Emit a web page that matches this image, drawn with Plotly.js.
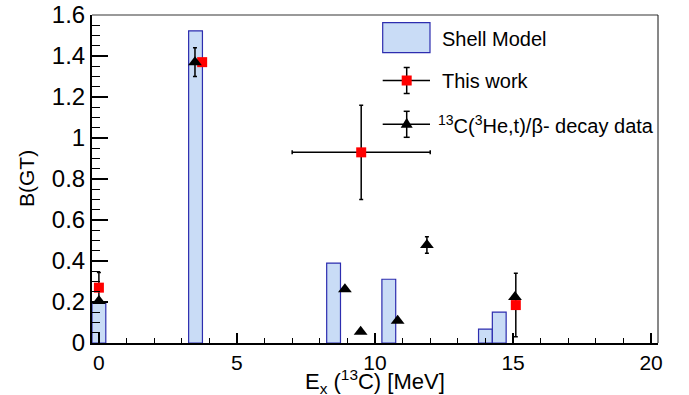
<!DOCTYPE html>
<html>
<head>
<meta charset="utf-8">
<script src="https://cdn.plot.ly/plotly-3.0.1.min.js"></script>
<style>html,body{margin:0;padding:0;background:#fff;}#chart{width:689px;height:395px;}</style>
</head>
<body>
<div id="chart"></div>
<script>
// Shell model histogram (bin centres, width 0.5 MeV)
const smEnergy = [0, 3.5, 8.5, 10.5, 14.0, 14.5];
const smBGT    = [0.195, 1.523, 0.39, 0.311, 0.068, 0.151];
const smBinWidth = 0.5;

// This work
const twEnergy = [0.0, 3.74, 9.5, 15.1];
const twBGT    = [0.27, 1.37, 0.93, 0.185];
const twErrY   = [0.074, 0, 0.23, 0.155];
const twErrX   = [0, 0, 2.5, 0];

// 13C(3He,t) / beta-decay data
const ldEnergy = [0.0, 3.48, 8.91, 9.48, 10.82, 11.88, 15.07];
const ldBGT    = [0.205, 1.37, 0.262, 0.055, 0.109, 0.478, 0.225];
const ldErrY   = [0, 0.07, 0, 0, 0, 0.04, 0];

const xTitle = 'E<sub>x</sub> (<sup>13</sup>C) [MeV]';
const yTitle = 'B(GT)';
const legendLabels = ['Shell Model', 'This work', '<sup>13</sup>C(<sup>3</sup>He,t)/\u03b2- decay data'];

const FONT = 'Liberation Sans, Arial, Helvetica, sans-serif';
const barFill = 'rgb(201,220,246)';
const barLine = 'rgb(45,45,175)';

// plot area in pixels
const L = 92, R = 658, T = 15, B = 343;
const px = x => (x - L) / (R - L);
const py = y => (B - y) / (B - T);

const traces = [
  {
    type: 'bar', x: smEnergy, y: smBGT, width: smBinWidth,
    marker: {color: barFill, line: {color: barLine, width: 1.2}},
    showlegend: false, hoverinfo: 'skip'
  },
  {
    type: 'scatter', mode: 'markers', x: twEnergy, y: twBGT,
    marker: {symbol: 'square', size: 10, color: '#ff0000'},
    error_y: {type: 'data', array: twErrY, color: '#000', thickness: 1.5, width: 2},
    error_x: {type: 'data', array: twErrX, color: '#000', thickness: 1.5, width: 2},
    cliponaxis: false, showlegend: false
  },
  {
    type: 'scatter', mode: 'markers', x: ldEnergy, y: ldBGT,
    marker: {symbol: 'triangle-up', size: 12, color: '#000'},
    error_y: {type: 'data', array: ldErrY, color: '#000', thickness: 1.5, width: 2},
    cliponaxis: false, showlegend: false
  }
];

// legend drawn as layout decoration
const lx0 = 382.7, lx1 = 430, lxc = 406.7;
const rowY = [37.7, 80.5, 124.3];
const shapes = [
  // frame top & right
  {type: 'line', xref: 'paper', yref: 'paper', x0: 0, x1: 1, y0: 1, y1: 1, line: {color: '#777', width: 1.5}},
  {type: 'line', xref: 'paper', yref: 'paper', x0: 1, x1: 1, y0: 0, y1: 1, line: {color: '#111', width: 1}},
  // shell model swatch
  {type: 'rect', xref: 'paper', yref: 'paper', x0: px(lx0), x1: px(lx1), y0: py(52.7), y1: py(22.7),
   fillcolor: barFill, line: {color: barLine, width: 1.2}},
];
function errSwatch(yc, half) {
  shapes.push({type: 'line', xref: 'paper', yref: 'paper', x0: px(lx0), x1: px(lx1), y0: py(yc), y1: py(yc), line: {color: '#000', width: 1.5}});
  shapes.push({type: 'line', xref: 'paper', yref: 'paper', x0: px(lxc), x1: px(lxc), y0: py(yc - half), y1: py(yc + half), line: {color: '#000', width: 1.5}});
  shapes.push({type: 'line', xref: 'paper', yref: 'paper', x0: px(lxc - 3), x1: px(lxc + 3), y0: py(yc - half), y1: py(yc - half), line: {color: '#000', width: 1.5}});
  shapes.push({type: 'line', xref: 'paper', yref: 'paper', x0: px(lxc - 3), x1: px(lxc + 3), y0: py(yc + half), y1: py(yc + half), line: {color: '#000', width: 1.5}});
}
errSwatch(rowY[1], 13);
errSwatch(rowY[2], 13);
shapes.push({type: 'rect', xref: 'paper', yref: 'paper', x0: px(lxc - 5), x1: px(lxc + 5), y0: py(rowY[1] + 5), y1: py(rowY[1] - 5),
  fillcolor: '#ff0000', line: {width: 0}});
shapes.push({type: 'path', xref: 'paper', yref: 'paper',
  path: `M ${px(lxc - 6)},${py(rowY[2] + 3.5)} L ${px(lxc + 6)},${py(rowY[2] + 3.5)} L ${px(lxc)},${py(rowY[2] - 6.5)} Z`,
  fillcolor: '#000', line: {width: 0}});

const annotations = [
  {xref: 'paper', yref: 'paper', x: px(440), y: py(rowY[0] + 1), xanchor: 'left', yanchor: 'middle', showarrow: false,
   text: legendLabels[0], font: {family: FONT, size: 20, color: '#000'}},
  {xref: 'paper', yref: 'paper', x: px(440), y: py(rowY[1]), xanchor: 'left', yanchor: 'middle', showarrow: false,
   text: legendLabels[1], font: {family: FONT, size: 20, color: '#000'}},
  {xref: 'paper', yref: 'paper', x: px(435.5), y: py(rowY[2]), xanchor: 'left', yanchor: 'middle', showarrow: false,
   text: legendLabels[2], font: {family: FONT, size: 20, color: '#000'}},
  {xref: 'paper', yref: 'paper', x: px(26), y: py(179), xanchor: 'center', yanchor: 'middle', textangle: -90, showarrow: false,
   text: yTitle, font: {family: FONT, size: 21, color: '#000'}},
  {xref: 'paper', yref: 'paper', x: px(375), y: py(381), xanchor: 'center', yanchor: 'middle', showarrow: false,
   text: xTitle, font: {family: FONT, size: 22, color: '#000'}}
];

const layout = {
  width: 689, height: 395,
  margin: {l: L, r: 689 - R, t: T, b: 395 - B, pad: 0},
  paper_bgcolor: '#fff', plot_bgcolor: '#fff',
  showlegend: false,
  bargap: 0,
  xaxis: {
    range: [-0.25, 20.25], showgrid: false, zeroline: false,
    showline: true, linecolor: '#000', linewidth: 2, mirror: false,
    ticks: 'inside', ticklen: 10, tickwidth: 1.2, tickcolor: '#000',
    tick0: 0, dtick: 5,
    minor: {ticks: 'inside', ticklen: 5, tickwidth: 1.2, tickcolor: '#000', dtick: 1, showgrid: false},
    tickfont: {family: FONT, size: 21, color: '#000'}
  },
  yaxis: {
    range: [0, 1.6], showgrid: false, zeroline: false,
    showline: true, linecolor: '#000', linewidth: 2, mirror: false,
    ticks: 'inside', ticklen: 16, tickwidth: 1.2, tickcolor: '#000',
    tick0: 0, dtick: 0.2,
    minor: {ticks: 'inside', ticklen: 8, tickwidth: 1.2, tickcolor: '#000', dtick: 0.05, showgrid: false},
    tickfont: {family: FONT, size: 24, color: '#000'}
  },
  shapes: shapes,
  annotations: annotations
};

Plotly.newPlot('chart', traces, layout, {staticPlot: true, displayModeBar: false});
</script>
</body>
</html>
